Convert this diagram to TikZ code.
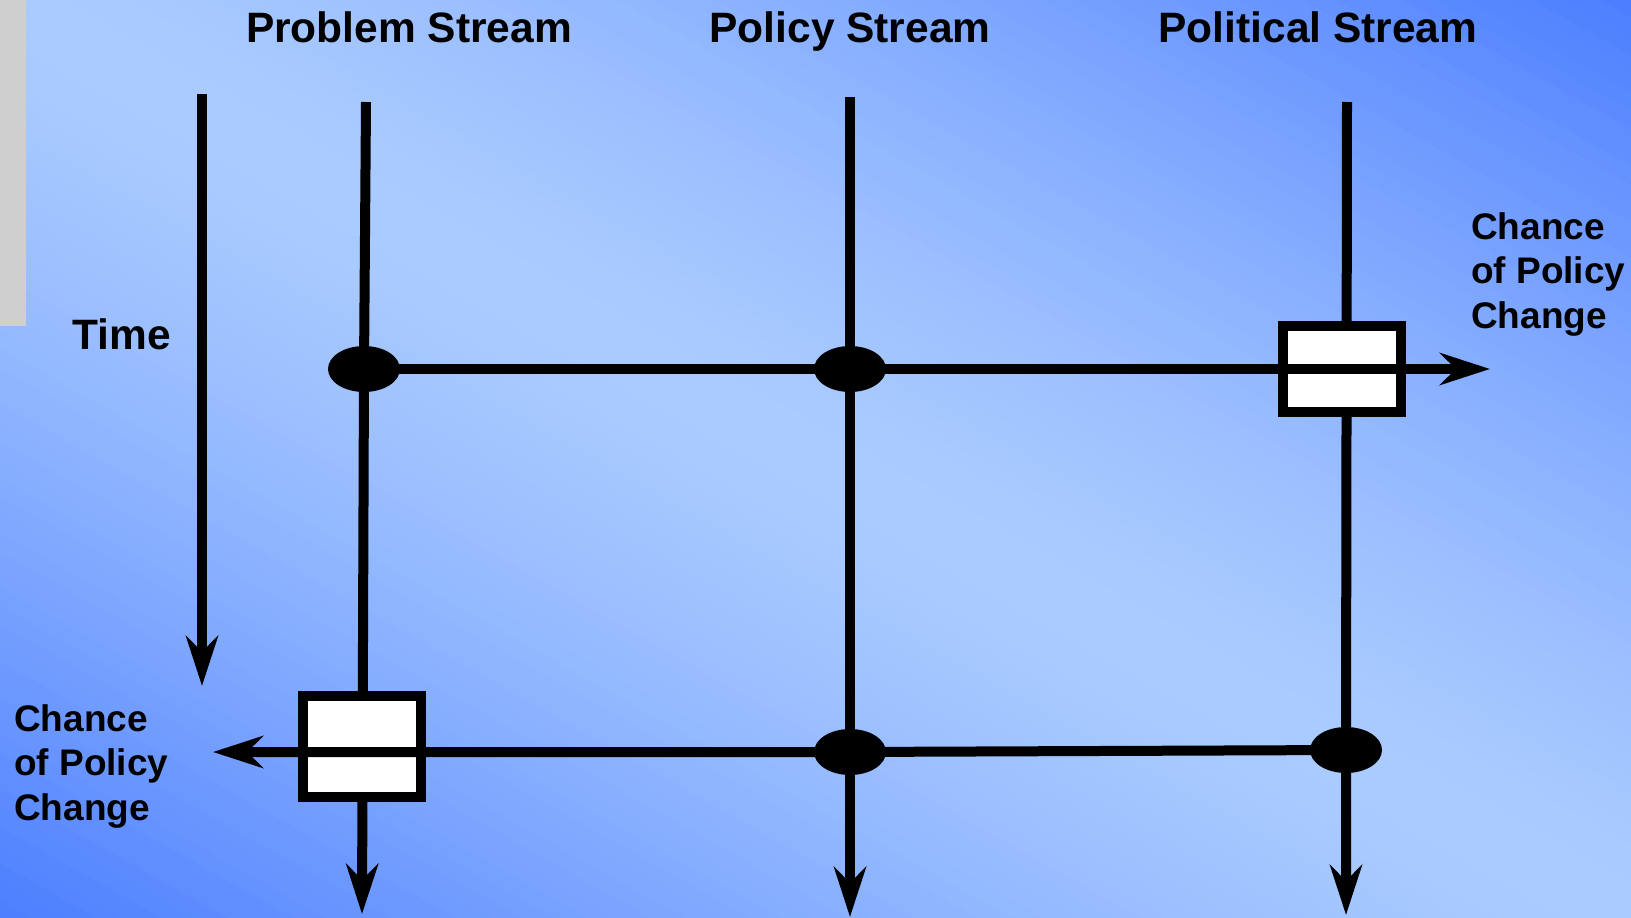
\documentclass[tikz,border=0pt]{standalone}
\usepackage{fontspec}
\setmainfont{Liberation Sans}
\usetikzlibrary{arrows.meta,shapes.geometric}

\pgfdeclarelayer{back}
\pgfdeclarelayer{under}
\pgfsetlayers{back,under,main}

\definecolor{deepblue}{RGB}{76,126,255}
\definecolor{paleblue}{RGB}{171,204,255}
\definecolor{sidegray}{RGB}{207,207,207}

\begin{document}
\begin{tikzpicture}[x=1pt, y=-1pt,
  head/.style = {font=\fontsize{42.5}{50}\selectfont\bfseries, anchor=base, inner sep=0pt},
  chance/.style = {font=\fontsize{37}{44.5}\selectfont\bfseries, align=left, anchor=base west, inner sep=0pt},
  meet/.style = {ellipse, fill=black, minimum width=72pt, minimum height=46pt, inner sep=0pt},
  gate/.style = {draw, fill=white, line width=10pt, minimum width=118pt, inner sep=0pt},
  rail/.style = {line width=10pt},
  flow/.style = {rail, -{Stealth[length=50pt, width=32pt, inset=16pt]}}]

\useasboundingbox (0,0) rectangle (1631,918);
\begin{pgfonlayer}{back}
  \begin{scope}
    \clip (0,0) rectangle (1631,918);
    \fill[deepblue] (0,0) rectangle (1631,918);
    \foreach \c in {-1,-0.98,...,0.98} {
      \pgfmathtruncatemacro\mixval{max(0,100*(1-abs(\c+0.01)^1.4))}
      \fill[paleblue!\mixval!deepblue, draw=paleblue!\mixval!deepblue, line width=1pt]
        ({1631*\c},0) -- ({1631*(\c+0.02)},0) -- ({1631*(\c+1.02)},918) -- ({1631*(\c+1)},918) -- cycle;
    }
  \end{scope}
  \fill[sidegray] (0,0) rectangle (26,326);
\end{pgfonlayer}

% headings
\node[head] (problem) at (409,42) {Problem Stream};
\node[head] (policy) at (850,42) {Policy Stream};
\node[head] (political) at (1318,42) {Political Stream};
\node[head] (time) at (122,349) {Time};
\node[chance] (chanceR) at (1471,328) {Chance\\of Policy\\Change};
\node[chance] (chanceL) at (14,820) {Chance\\of Policy\\Change};

% windows
\node[gate, minimum height=86pt] (windowR) at (1342,369) {};
\node[gate, minimum height=101pt] (windowL) at (362,746) {};

% couplings
\node[meet] (probA) at (364,369) {};
\node[meet] (polA) at (850,369) {};
\node[meet] (polB) at (850,752) {};
\node[meet] (poliB) at (1346,750) {};

% ends
\coordinate (timeTop) at (202,94);
\coordinate (timeEnd) at (202,686);
\coordinate (probTop) at (366,102);
\coordinate (probEnd) at (362,914);
\coordinate (polTop) at (850,97);
\coordinate (polEnd) at (850,917);
\coordinate (poliTop) at (1347,102);
\coordinate (poliEnd) at (1346,915);
\coordinate (rightEnd) at (1490,369);
\coordinate (leftEnd) at (213,752);

\begin{pgfonlayer}{under}
  \draw[flow] (timeTop) -- (timeEnd);
  \draw[flow] (probTop) -- (probA.center) -- (probEnd);
  \draw[flow] (polTop) -- (polA.center) -- (polB.center) -- (polEnd);
  \draw[flow] (poliTop) -- (poliB.center) -- (poliEnd);
\end{pgfonlayer}
\draw[flow] (probA.center) -- (polA.center) -- (windowR.center) -- (rightEnd);
\draw[flow] (poliB.center) -- (polB.center) -- (leftEnd);

\end{tikzpicture}
\end{document}
